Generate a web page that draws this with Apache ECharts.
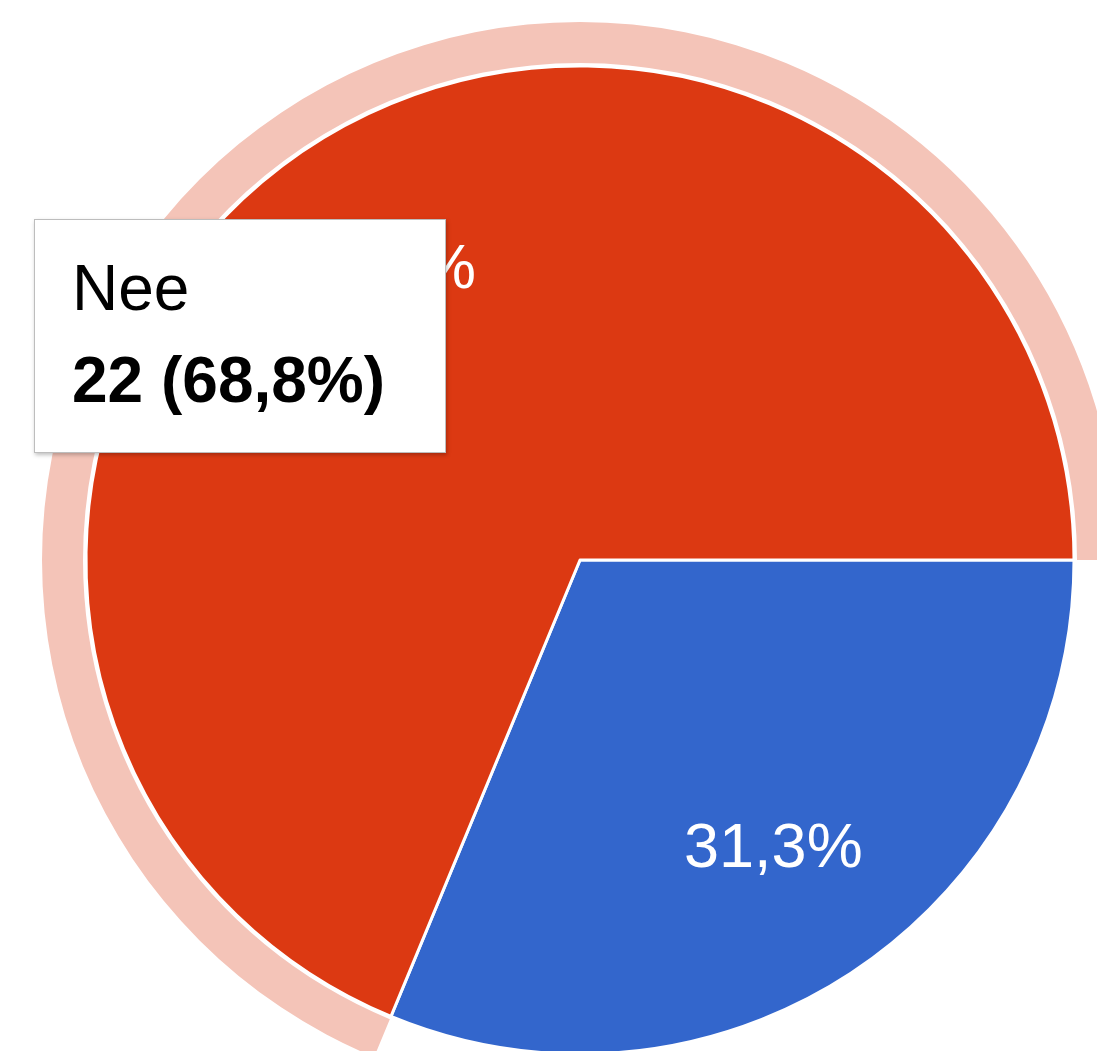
<!DOCTYPE html>
<html>
<head>
<meta charset="utf-8">
<script src="https://cdn.jsdelivr.net/npm/echarts@6/dist/echarts.min.js"></script>
<style>
html,body{margin:0;padding:0;background:#fff;}
#chart{width:1097px;height:1051px;}
</style>
</head>
<body>
<div id="chart"></div>
<script>
const categories = ['Ja', 'Nee'];
const counts = [10, 22];
const sliceColors = ['#3366cc', '#dc3912'];
const haloColors = ['rgba(0,0,0,0)', '#f4c4b8'];
const highlightedIndex = 1;

const total = counts.reduce((a, b) => a + b, 0);
const pct = v => (v / total * 100).toFixed(1).replace('.', ',') + '%';

const mainData = categories.map((c, i) => ({ name: c, value: counts[i], itemStyle: { color: sliceColors[i] } }));
const haloData = categories.map((c, i) => ({ name: c, value: counts[i], itemStyle: { color: haloColors[i] } }));
const labelData = categories.map((c, i) => ({ name: c, value: counts[i] }));

const FONT = '"Liberation Sans", Arial, Helvetica, sans-serif';
const chart = echarts.init(document.getElementById('chart'), null, { renderer: 'canvas' });
chart.setOption({
  animation: false,
  backgroundColor: '#ffffff',
  tooltip: {
    trigger: 'item',
    triggerOn: 'none',
    alwaysShowContent: true,
    transitionDuration: 0,
    position: [34, 219],
    padding: 0,
    backgroundColor: '#ffffff',
    borderColor: '#bdbdbd',
    borderWidth: 1,
    extraCssText: 'border-radius:0;box-shadow:1px 2px 4px rgba(0,0,0,0.25);',
    formatter: p => '<div style="box-sizing:border-box;width:410px;height:232px;padding:22px 0 0 37px;' +
      'font-family:' + FONT.replace(/"/g, "'") + ';font-size:64px;line-height:92px;color:#000;text-align:left;">' +
      '<div>' + p.name + '</div>' +
      '<div style="font-weight:bold;">' + p.value + ' (' + pct(p.value) + ')</div></div>'
  },
  series: [
    {
      type: 'pie',
      center: [580, 560],
      radius: [0, 494],
      startAngle: 0,
      clockwise: true,
      itemStyle: { borderColor: '#ffffff', borderWidth: 3 },
      label: { show: false },
      labelLine: { show: false },
      emphasis: { disabled: true },
      data: mainData
    },
    {
      type: 'pie',
      center: [580, 560],
      radius: [497, 538],
      startAngle: 0,
      clockwise: true,
      silent: true,
      tooltip: { show: false },
      label: { show: false },
      labelLine: { show: false },
      emphasis: { disabled: true },
      data: haloData
    },
    {
      type: 'pie',
      center: [580, 560],
      radius: [200, 490],
      startAngle: 0,
      clockwise: true,
      silent: true,
      tooltip: { show: false },
      itemStyle: { color: 'rgba(0,0,0,0)' },
      label: {
        show: true,
        position: 'inside',
        color: '#ffffff',
        fontSize: 63,
        fontFamily: FONT,
        formatter: p => pct(p.value)
      },
      labelLine: { show: false },
      emphasis: { disabled: true },
      data: labelData
    }
  ]
});
chart.dispatchAction({ type: 'showTip', seriesIndex: 0, dataIndex: highlightedIndex });
</script>
</body>
</html>
